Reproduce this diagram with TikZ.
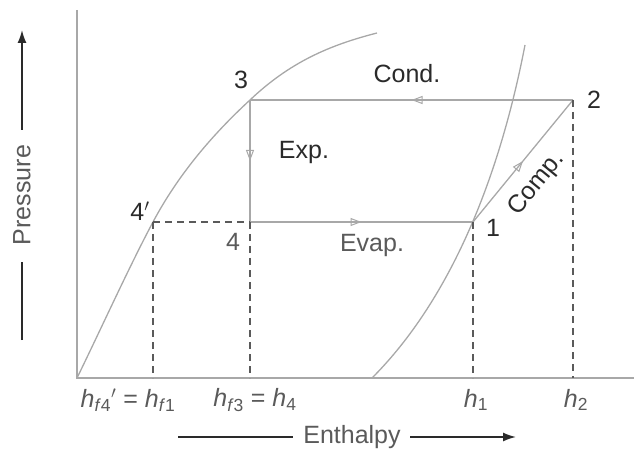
\documentclass[tikz,border=0pt]{standalone}
\usepackage{fontspec}
\setmainfont{Liberation Sans}
\usetikzlibrary{arrows.meta,decorations.markings}
\definecolor{linegray}{HTML}{A8A8A8}
\definecolor{txtdark}{HTML}{2A2A2A}
\definecolor{txtgray}{HTML}{5A5A5A}
\newcommand\hsub[1]{\textit{h}\textsubscript{#1}}
\tikzset{
  curveline/.style={draw=linegray, line width=1.3pt},
  cycleline/.style={draw=linegray, line width=1.3pt},
  dashline/.style={draw=txtgray, line width=1.3pt, dash pattern=on 7pt off 5pt},
  midarrow/.style={postaction={decorate}, decoration={markings,
      mark=at position 0.5 with {\arrow{Triangle[open, length=11pt, width=8pt, line width=1pt]}}}},
  lbl/.style={text=txtdark, font=\fontsize{25}{30}\selectfont, inner sep=1pt},
  lblg/.style={text=txtgray, font=\fontsize{25}{30}\selectfont, inner sep=1pt},
  axlbl/.style={text=txtgray, font=\fontsize{25}{30}\selectfont, inner sep=1pt},
  axarrow/.style={draw=txtdark, line width=1.6pt, -{Latex[length=13pt, width=9pt]}},
  axline/.style={draw=txtdark, line width=1.6pt},
}
\begin{document}
\begin{tikzpicture}[x=1pt, y=-1pt]
\useasboundingbox (0,0) rectangle (634,454);
% key points
\coordinate (p3) at (250,100);
\coordinate (p2) at (573,100);
\coordinate (p4) at (250,222);
\coordinate (p4p) at (153,222);
\coordinate (p1) at (473,222);
\coordinate (o) at (77,378);
\coordinate (ytop) at (77,10);
\coordinate (xend) at (634,378);
\coordinate (b4p) at (153,378);
\coordinate (b4) at (250,378);
\coordinate (b1) at (473,378);
\coordinate (b2) at (573,378);
\coordinate (lc0) at (77,378);
\coordinate (lc3) at (377,33);
\coordinate (rc0) at (372,378);
\coordinate (rc3) at (525,45);
% axes
\draw[curveline] (ytop) -- (o) -- (xend);
% saturation curves
\draw[curveline] (lc0) .. controls (100,331) and (130,265) .. (p4p)
   .. controls (178,175) and (212,135) .. (p3)
   .. controls (290,62) and (330,45) .. (lc3);
\draw[curveline] (rc0) .. controls (440,310) and (495,200) .. (rc3);
% cycle
\draw[cycleline, midarrow] (p2) -- (p3);
\draw[cycleline, midarrow] (p3) -- (p4);
\draw[cycleline, midarrow] (p4) -- (p1);
\draw[cycleline, midarrow] (p1) -- (p2);
% dashed lines
\draw[dashline] (p4p) -- (p4);
\draw[dashline] (p4p) -- (b4p);
\draw[dashline] (p4) -- (b4);
\draw[dashline] (p1) -- (b1);
\draw[dashline] (p2) -- (b2);
% point labels
\node[lbl] (l3) at (241,80) {3};
\node[lbl] (l2) at (594,100) {2};
\node[lbl] (l1) at (493,228) {1};
\node[lbl] (l4p) at (140,211) {4$'$};
\node[lblg] (l4) at (233,242) {4};
% process labels
\node[lbl] (lcond) at (407,74) {Cond.};
\node[lbl] (lexp) at (304,152) {Exp.};
\node[lblg] (levap) at (372,245) {Evap.};
\node[lbl, rotate=50.7] (lcomp) at (537,184) {Comp.};
% enthalpy labels
\node[axlbl] (hf4) at (128,400) {\hsub{\textit{f}4}$'$ = \hsub{\textit{f}1}};
\node[axlbl] (hf3) at (255,400) {\hsub{\textit{f}3} = \hsub{4}};
\node[axlbl] (h1) at (476,400) {\hsub{1}};
\node[axlbl] (h2) at (576,400) {\hsub{2}};
% axis titles
\node[axlbl] (enth) at (352,437) {Enthalpy};
\coordinate (el0) at (178,437);
\coordinate (el1) at (293,437);
\coordinate (ea0) at (410,437);
\coordinate (ea1) at (516,437);
\draw[axline] (el0) -- (el1);
\draw[axarrow] (ea0) -- (ea1);
\node[axlbl, rotate=90] (press) at (22,195) {Pressure};
\coordinate (pl0) at (22,340);
\coordinate (pl1) at (22,262);
\coordinate (pa0) at (22,130);
\coordinate (pa1) at (22,30);
\draw[axline] (pl0) -- (pl1);
\draw[axarrow] (pa0) -- (pa1);
\end{tikzpicture}
\end{document}
